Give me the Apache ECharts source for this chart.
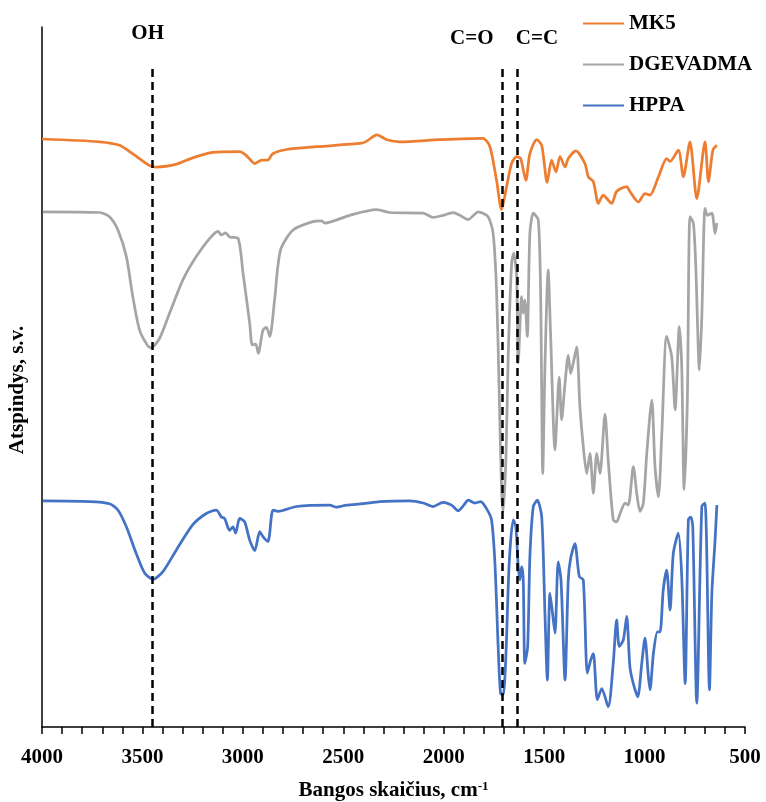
<!DOCTYPE html>
<html>
<head>
<meta charset="utf-8">
<title>FTIR spektrai</title>
<script src="https://cdn.jsdelivr.net/npm/echarts@6/dist/echarts.min.js"></script>
<style>
html, body {
	margin: 0;
	padding: 0;
	background: #fff;
}
#chart {
	width: 766px;
	height: 802px;
}
</style>
</head>
<body>
<div id="chart"></div>
<script type="text/javascript">
    // bangos skaičius (cm-1) ir atspindys (s.v.), nuskaityta nuo paveikslo
    var mk5Wn = [4000,3713,3614,3549,3464,3429,3330,3250,3150,3016,2981,2941,2906,2876,2851,2782,2632,2408,2383,2333,2283,2218,2019,1805,1770,1737,1712,1687,1662,1637,1617,1591,1571,1537,1512,1485,1463,1441,1421,1396,1380,1342,1297,1280,1255,1230,1206,1164,1139,1089,1073,1031,998,973,931,890,873,832,807,774,740,699,682,660,640];
    var mk5Val = [84.0,83.6,83.1,81.9,80.2,80.0,80.4,81.3,82.1,82.2,81.6,80.5,81.0,81.0,81.9,82.5,82.9,83.4,83.7,84.6,83.9,83.6,83.9,84.1,82.9,78.1,73.9,77.2,80.5,81.5,81.2,78.1,81.9,83.9,83.1,77.8,81.0,79.3,81.5,80.0,81.2,82.3,80.5,78.6,77.9,74.8,76.0,74.8,76.5,77.2,76.5,75.0,76.2,76.0,78.6,81.2,80.8,82.4,78.6,83.6,75.5,83.6,77.9,82.4,83.1];

    var dgWn = [3996,3713,3664,3622,3580,3548,3514,3472,3456,3415,3365,3298,3232,3165,3124,3107,3086,3066,3024,2999,2966,2953,2936,2923,2900,2883,2866,2842,2813,2750,2651,2609,2592,2468,2335,2268,2102,2053,2003,1953,1920,1878,1828,1779,1754,1737,1724,1712,1704,1690,1679,1662,1651,1637,1629,1612,1604,1596,1584,1571,1554,1529,1517,1507,1496,1480,1468,1446,1425,1413,1396,1380,1368,1355,1338,1322,1305,1288,1272,1255,1238,1222,1197,1181,1156,1139,1122,1097,1081,1056,1039,1023,1006,989,964,948,931,914,890,865,848,827,815,803,787,774,757,745,727,715,699,687,665,649,640];
    var dgVal = [73.6,73.5,72.9,71.0,67.2,61.5,56.7,54.4,54.2,55.5,59.1,63.9,67.2,69.8,70.8,70.3,70.6,70.0,69.8,64.8,57.7,54.6,54.7,53.4,56.7,57.1,55.8,61.0,68.1,71.0,72.2,72.3,72.0,73.1,73.9,73.5,73.4,72.8,73.1,73.5,73.1,72.5,73.6,72.9,70.5,62.4,48.1,33.9,30.8,38.6,52.9,66.2,67.7,64.3,52.0,61.5,59.1,61.0,55.8,70.5,73.4,72.4,61.0,36.2,51.5,65.3,56.2,39.6,50.0,43.9,49.1,53.1,50.5,52.0,54.3,45.8,40.0,36.2,39.1,33.4,39.1,36.2,44.7,38.1,29.6,29.3,30.5,32.0,31.7,37.2,33.4,30.8,32.0,39.1,46.7,37.2,32.9,42.0,55.8,52.9,45.3,57.2,51.5,33.9,46.7,72.9,72.0,65.8,51.0,58.6,74.1,73.1,73.4,70.5,72.0];

    var hpWn = [3996,3763,3664,3622,3580,3531,3489,3448,3398,3331,3249,3182,3132,3107,3091,3066,3049,3036,3016,2991,2966,2941,2916,2900,2875,2850,2825,2733,2567,2534,2484,2401,2318,2169,2102,2053,2003,1961,1928,1900,1878,1845,1816,1787,1762,1745,1729,1717,1704,1690,1674,1654,1641,1629,1621,1612,1604,1596,1582,1571,1554,1534,1512,1496,1484,1471,1458,1446,1430,1416,1396,1380,1368,1347,1325,1305,1285,1268,1255,1235,1213,1181,1156,1139,1126,1106,1089,1073,1056,1034,1014,998,981,973,956,936,923,907,890,873,857,832,815,798,782,770,760,740,715,699,677,665,649,640];
    var hpVal = [32.3,32.2,31.9,31.0,28.6,24.8,22.0,21.1,22.2,25.3,28.9,30.5,31.0,30.0,29.8,28.1,28.6,27.7,29.8,29.3,26.7,25.2,27.9,27.2,26.5,31.0,30.8,31.5,31.7,31.4,31.7,31.9,32.2,32.3,32.0,31.5,32.1,31.7,30.9,31.7,32.4,32.0,32.2,31.2,29.6,23.4,11.5,4.8,4.6,10.5,23.4,29.6,28.6,22.9,21.0,22.9,21.0,9.1,11.5,24.3,31.5,32.4,30.0,16.2,6.7,19.1,16.2,13.4,23.6,21.0,6.7,21.0,24.1,26.2,21.5,21.0,7.7,9.6,10.5,3.9,5.5,2.9,9.1,15.3,11.5,12.4,15.8,8.6,6.2,4.3,9.1,12.7,7.2,5.3,10.5,13.6,13.6,19.6,22.4,16.7,24.8,27.7,21.5,6.2,29.6,30.0,28.6,3.4,31.5,32.0,5.3,19.1,26.7,31.7];

    // punktyrinės linijos ties smailėmis
    var bandWn = [3450, 1708, 1632];
    var bandTop = 94;

    // užrašai virš linijų
    var labelText = ['OH', 'C=O', 'C=C'];
    var labelWn = [3474, 1860, 1536];
    var labelVal = [99.0, 98.3, 98.3];

    var serif = "'Liberation Serif', 'Times New Roman', serif";

    function zip(xs, ys) {
        var out = [];
        for (var i = 0; i < xs.length; i++) {
            out.push([xs[i], ys[i]]);
        }
        return out;
    }

    var bandLines = bandWn.map(function (w) {
        return [{coord: [w, 0]}, {coord: [w, bandTop]}];
    });

    var labelData = labelText.map(function (t, i) {
        return [labelWn[i], labelVal[i], t];
    });

    var myChart = echarts.init(document.getElementById('chart'));

    option = {
        animation: false,
        grid: {left: 42, right: 21, top: 27, bottom: 75, outerBoundsMode: 'none', containLabel: false},
        legend: {
            data: ['MK5', 'DGEVADMA', 'HPPA'],
            orient: 'vertical',
            left: 577,
            top: 8,
            itemWidth: 41,
            itemHeight: 14,
            itemGap: 20,
            itemStyle: {opacity: 0},
            textStyle: {fontFamily: serif, fontWeight: 'bold', fontSize: 21, color: '#000'}
        },
        xAxis: {
            type: 'value',
            inverse: true,
            min: 500,
            max: 4000,
            interval: 500,
            name: '{a|Bangos skaičius, cm}{b|-1}',
            nameLocation: 'middle',
            nameGap: 53,
            nameTextStyle: {
                rich: {
                    a: {fontFamily: serif, fontWeight: 'bold', fontSize: 21, color: '#000'},
                    b: {fontFamily: serif, fontWeight: 'bold', fontSize: 13, color: '#000', verticalAlign: 'top', padding: [0, 0, 8, 0]}
                }
            },
            axisLine: {lineStyle: {color: '#000', width: 1.5}},
            axisTick: {length: 7, lineStyle: {color: '#000', width: 1.5}},
            minorTick: {show: true, splitNumber: 5, length: 7, lineStyle: {color: '#000', width: 1.5}},
            splitLine: {show: false},
            axisLabel: {
                fontFamily: serif, fontWeight: 'bold', fontSize: 21, color: '#000', margin: 20,
                formatter: function (v) { return String(v); }
            }
        },
        yAxis: {
            type: 'value',
            min: 0,
            max: 100,
            name: 'Atspindys, s.v.',
            nameLocation: 'middle',
            nameGap: 14,
            nameTextStyle: {fontFamily: serif, fontWeight: 'bold', fontSize: 21, color: '#000', padding: [0, 26, 0, 0]},
            axisLine: {show: true, lineStyle: {color: '#000', width: 1.5}},
            axisTick: {show: false},
            axisLabel: {show: false},
            splitLine: {show: false}
        },
        series: [{
            name: 'MK5',
            type: 'line',
            symbol: 'none',
            smooth: 0.25,
            data: zip(mk5Wn, mk5Val),
            lineStyle: {color: '#ED7D31', width: 2.75},
            itemStyle: {color: '#ED7D31'}
        }, {
            name: 'DGEVADMA',
            type: 'line',
            symbol: 'none',
            smooth: 0.25,
            data: zip(dgWn, dgVal),
            lineStyle: {color: '#A5A5A5', width: 2.75},
            itemStyle: {color: '#A5A5A5'}
        }, {
            name: 'HPPA',
            type: 'line',
            symbol: 'none',
            smooth: 0.25,
            data: zip(hpWn, hpVal),
            lineStyle: {color: '#4472C4', width: 2.75},
            itemStyle: {color: '#4472C4'},
            markLine: {
                silent: true,
                symbol: 'none',
                label: {show: false},
                lineStyle: {color: '#000', type: [8, 5], width: 2.5},
                data: bandLines
            }
        }, {
            name: 'labels',
            type: 'scatter',
            symbolSize: 0,
            itemStyle: {color: 'rgba(0,0,0,0)', opacity: 1},
            silent: true,
            data: labelData,
            label: {
                show: true,
                position: 'inside',
                formatter: function (p) { return p.data[2]; },
                fontFamily: serif,
                fontWeight: 'bold',
                fontSize: 21,
                color: '#000',
                opacity: 1
            }
        }]
    };

    myChart.setOption(option);
</script>
</body>
</html>
